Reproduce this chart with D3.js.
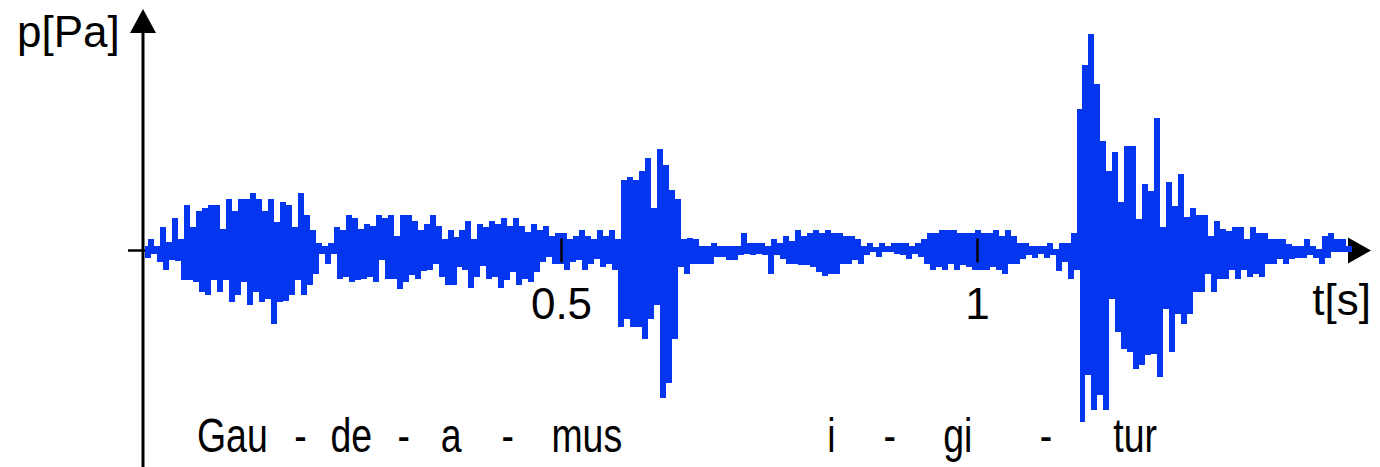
<!DOCTYPE html>
<html lang="en">
	<head>
		<meta charset="utf-8">
		<title> Gaudeamus igitur - pressure signal </title>
		<script src="https://d3js.org/d3.v7.min.js"></script>
		<style>
			body {
				margin:0;
				background:#fff;
			}
			text {
				font-family:"Liberation Sans", Arial, sans-serif;
				fill:#000;
			}
			.wave {
				fill:none;
				stroke:#0436f0;
				stroke-width:3;
				stroke-linejoin:miter;
				shape-rendering:crispEdges;
			}
		</style>
	</head>
	<body>
		<script type="text/javascript">

			// canvas
			const w = 1380, h = 467;

			// sampling interval of the signal (s)
			var dt = 0.0036;

			// envelope of the signal, one pair per 2 samples
			var upper = [3,10,3,22,7,31,10,44,22,38,41,44,44,20,50,38,50,50,56,50,38,50,27,47,44,22,56,34,19,6,3,6,22,19,34,
				31,20,25,23,34,31,34,13,34,34,28,19,25,34,23,10,19,12,19,28,10,25,22,28,25,31,23,31,23,17,25,19,23,13,
				16,16,10,13,19,13,10,19,13,19,10,69,72,69,78,91,41,100,84,59,50,10,11,10,3,3,6,3,3,3,3,16,6,6,
				6,3,10,6,13,8,19,13,16,19,16,19,16,16,13,13,10,3,6,2,6,3,6,6,6,3,6,10,16,16,19,19,19,16,
				16,16,19,16,16,19,13,19,13,6,6,3,3,3,6,0,6,6,16,140,184,215,165,108,78,97,47,103,103,30,65,58,131,22,
				67,43,75,32,41,34,34,13,28,20,18,22,22,10,22,16,16,10,10,10,5,3,3,10,3,0,13,16,10,10,3];

			var lower = [-6,-2,-10,-18,-8,-9,-28,-28,-30,-40,-43,-28,-40,-28,-50,-43,-30,-53,-40,-50,-47,-72,-50,-49,-43,-28,-43,-33,-22,-2,-12,-2,-27,-25,-30,
				-28,-27,-25,-30,-8,-27,-27,-37,-30,-23,-27,-19,-18,-12,-25,-33,-33,-15,-18,-36,-25,-14,-27,-25,-36,-28,-20,-33,-27,-30,-20,-10,-5,-12,
				-12,-18,-10,-8,-18,-12,-7,-15,-12,-18,-75,-67,-75,-75,-87,-67,-53,-146,-131,-87,-15,-22,-12,-12,-12,-12,-5,-5,-8,-8,-3,-2,-3,-2,
				-3,-22,-3,-7,-12,-12,-13,-13,-15,-20,-24,-22,-22,-12,-12,-8,-12,-3,0,-5,0,0,-2,-3,-7,-2,-5,-12,-18,-15,-18,-12,-18,-13,
				-15,-18,-18,-18,-15,-18,-22,-12,-12,-7,-3,-6,-2,-6,-3,-19,-10,-27,-18,-170,-123,-158,-143,-158,-47,-80,-97,-100,-117,-113,-103,-102,-125,-57,
				-100,-62,-72,-62,-40,-40,-22,-40,-27,-27,-18,-27,-18,-25,-22,-25,-12,-12,-7,-12,-7,-6,-6,-3,-6,-12,-6,0,0,0,0];

			// tick values on the time axis
			var tickValues = [0.5, 1];

			// syllables and the time they sit under
			var syllables = ["Gau", "-", "de", "-", "a", "-", "mus", "i", "-", "gi", "-", "tur"];
			var syllableTimes = [0.105, 0.187, 0.248, 0.311, 0.368, 0.436, 0.531, 0.825, 0.895, 0.977, 1.083, 1.19];

			// interleave the envelope into samples
			var samples = [];
			upper.forEach((u, i) => {
				samples.push(u);
				samples.push(lower[i]);
			});

			var svg = d3.select("body")
						.append("svg")
						.attr("width", w)
						.attr("height", h);

			// Scales
			var xScale = d3.scaleLinear()
							.domain([0, 1])
							.range([145, 977]);

			var yScale = d3.scaleLinear()
							.domain([-200, 200])
							.range([450.5, 50.5]);

			var y0 = yScale(0), xAxisX = 143;

			// x axis line (under the signal)
			svg.append("line")
			   .attr("x1", 128).attr("x2", 1352)
			   .attr("y1", y0).attr("y2", y0)
			   .attr("stroke", "black")
			   .attr("stroke-width", 2.5);

			svg.append("path")
			   .attr("d", `M1371,${y0} L1348,${y0 - 13} L1348,${y0 + 13} Z`)
			   .attr("fill", "black");

			// the signal, drawn as pixel columns like a sampled trace
			var line = d3.line()
						 .curve(d3.curveStep)
						 .x((d, i) => xScale(i * dt))
						 .y(d => yScale(d));

			svg.append("path")
			   .datum(samples)
			   .attr("class", "wave")
			   .attr("d", line);

			// ticks
			var xAxis = d3.axisBottom(xScale)
						  .tickValues(tickValues)
						  .tickFormat(d3.format("~g"));

			var gx = svg.append("g")
						.attr("transform", "translate(0," + y0 + ")")
						.call(xAxis);

			gx.select(".domain").remove();
			gx.selectAll(".tick line")
			  .attr("y1", -12).attr("y2", 12)
			  .attr("stroke", "black")
			  .attr("stroke-width", 2.5);
			gx.selectAll(".tick text")
			  .attr("y", 68).attr("dy", null)
			  .attr("fill", "black")
			  .style("font-size", "44px")
			  .style("font-family", "'Liberation Sans', Arial, sans-serif");

			// y axis
			svg.append("line")
			   .attr("x1", xAxisX).attr("x2", xAxisX)
			   .attr("y1", 30).attr("y2", h)
			   .attr("stroke", "black")
			   .attr("stroke-width", 3);

			svg.append("path")
			   .attr("d", `M${xAxisX},9 L${xAxisX - 13},33 L${xAxisX + 13},33 Z`)
			   .attr("fill", "black");

			// axis labels
			svg.append("text")
			   .attr("x", 17).attr("y", 47)
			   .style("font-size", "44px")
			   .text("p[Pa]");

			svg.append("text")
			   .attr("x", 1371).attr("y", 315)
			   .attr("text-anchor", "end")
			   .style("font-size", "44px")
			   .text("t[s]");

			// lyrics under the signal (narrow lettering)
			svg.append("g")
			   .selectAll("text")
			   .data(syllables)
			   .join("text")
			   .attr("text-anchor", "middle")
			   .attr("transform", (d, i) => `translate(${xScale(syllableTimes[i])},452) scale(0.78,1)`)
			   .style("font-size", "48px")
			   .text(d => d);

		</script>
	</body>
</html>
